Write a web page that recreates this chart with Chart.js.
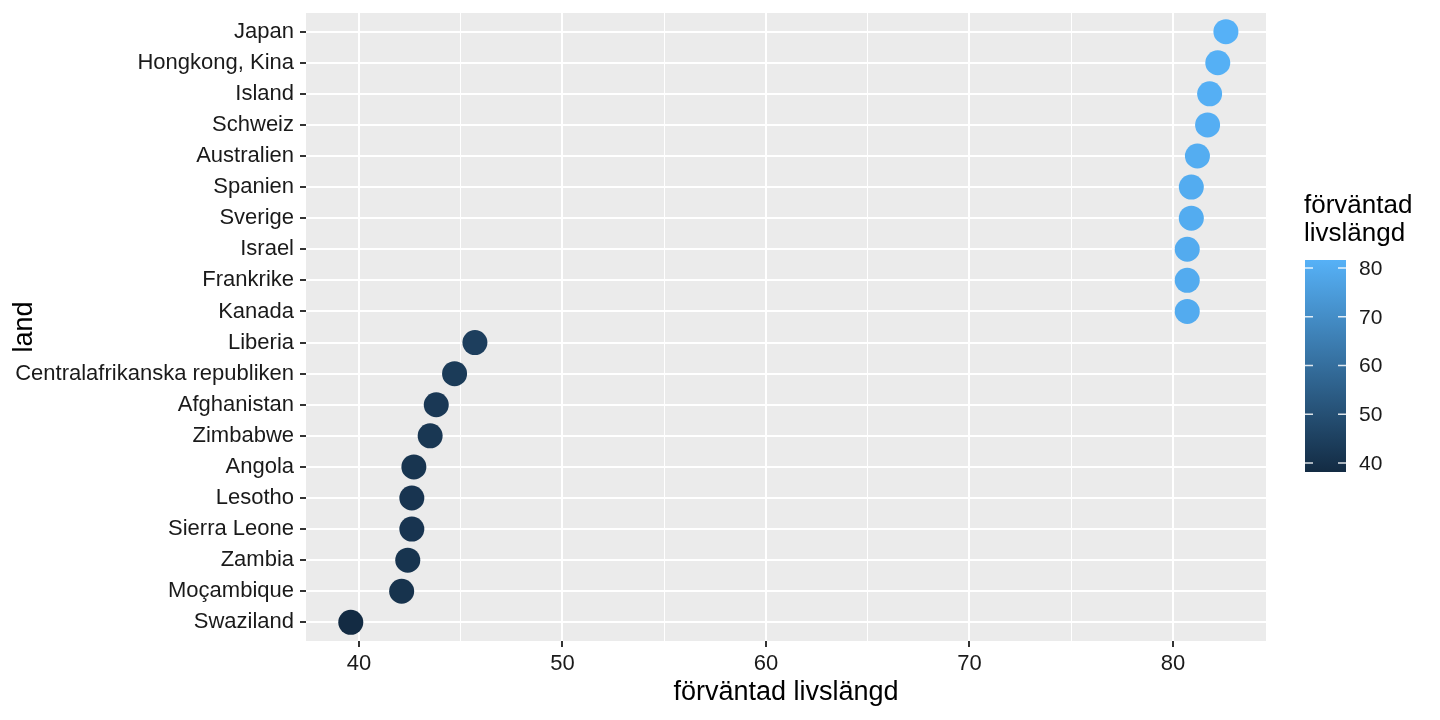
<!DOCTYPE html>
<html>
<head>
<meta charset="utf-8">
<title>förväntad livslängd</title>
<script src="https://cdn.jsdelivr.net/npm/chart.js@4.4.1/dist/chart.umd.min.js"></script>
<style>
	body { margin: 0; background: #fff; }
	#wrap { width: 1440px; height: 720px; }
</style>
</head>
<body>
<div id="wrap"><canvas id="myDotChart" width="1440" height="720"></canvas></div>
<script>
// data (gapminder 2007, topp 10 och botten 10)
var countries = ["Japan", "Hongkong, Kina", "Island", "Schweiz", "Australien", "Spanien", "Sverige", "Israel", "Frankrike", "Kanada",
	"Liberia", "Centralafrikanska republiken", "Afghanistan", "Zimbabwe", "Angola", "Lesotho", "Sierra Leone", "Zambia", "Moçambique", "Swaziland"];
var lifeExp = [82.6, 82.2, 81.8, 81.7, 81.2, 80.9, 80.9, 80.7, 80.7, 80.7,
	45.7, 44.7, 43.8, 43.5, 42.7, 42.6, 42.6, 42.4, 42.1, 39.6];
var xTicks = [40, 50, 60, 70, 80];
var legendTicks = [40, 50, 60, 70, 80];

var FONT = "'Liberation Sans', Arial, Helvetica, sans-serif";
var LOW = [19, 43, 67];    // #132B43
var HIGH = [86, 177, 247]; // #56B1F7

var minVal = Math.min.apply(null, lifeExp);
var maxVal = Math.max.apply(null, lifeExp);

// färg för ett värde (gradient mörk -> ljus)
function colorFor(v) {
	var t = (v - minVal) / (maxVal - minVal);
	var c = LOW.map(function(lo, i) { return Math.round(lo + (HIGH[i] - lo) * t); });
	return "rgb(" + c.join(",") + ")";
}

var points = lifeExp.map(function(v, i) { return { x: v, y: i }; });
var pointColors = lifeExp.map(colorFor);

// grå panel bakom rutnätet
var panelBg = {
	id: "panelBg",
	beforeDraw: function(chart) {
		var c = chart.ctx, a = chart.chartArea;
		c.save();
		c.fillStyle = "#ffffff";
		c.fillRect(0, 0, chart.width, chart.height);
		c.fillStyle = "#EBEBEB";
		c.fillRect(a.left, a.top, a.right - a.left, a.bottom - a.top);
		c.restore();
	}
};

// färgskala till höger (som ggplot colorbar)
var colorBar = {
	id: "colorBar",
	afterDraw: function(chart) {
		var c = chart.ctx;
		var x0 = 1305, w = 41, top = 260, bottom = 472;
		var lo = 38.15, hi = 81.65; // värden vid stapelns kanter
		c.save();
		c.fillStyle = "#000";
		c.font = "26px " + FONT;
		c.textAlign = "left";
		c.textBaseline = "middle";
		c.fillText("förväntad", 1304, 206);
		c.fillText("livslängd", 1304, 234);

		var grad = c.createLinearGradient(0, top, 0, bottom);
		grad.addColorStop(0, colorFor(maxVal));
		grad.addColorStop(1, colorFor(minVal));
		c.fillStyle = grad;
		c.fillRect(x0, top, w, bottom - top);

		c.font = "21px " + FONT;
		c.fillStyle = "#1a1a1a";
		legendTicks.forEach(function(v) {
			var y = bottom - (v - lo) / (hi - lo) * (bottom - top);
			c.strokeStyle = "rgba(255,255,255,0.85)";
			c.lineWidth = 1.5;
			c.beginPath();
			c.moveTo(x0, y); c.lineTo(x0 + 8, y);
			c.moveTo(x0 + w - 8, y); c.lineTo(x0 + w, y);
			c.stroke();
			c.fillText(String(v), 1359, y + 1);
		});
		c.restore();
	}
};

var ctx = document.getElementById("myDotChart").getContext("2d");
window.myDotChart = new Chart(ctx, {
	type: "scatter",
	data: {
		datasets: [{
			label: "förväntad livslängd",
			data: points,
			backgroundColor: pointColors,
			borderWidth: 0,
			pointRadius: 12.5,
			pointHoverRadius: 12.5
		}]
	},
	options: {
		responsive: false,
		animation: false,
		devicePixelRatio: 1,
		layout: { padding: { left: 0, right: 174, top: 13, bottom: 0 } },
		plugins: {
			legend: { display: false },
			tooltip: { enabled: false }
		},
		scales: {
			x: {
				type: "linear",
				min: 37.4,
				max: 84.57,
				border: { display: false },
				afterFit: function(scale) {
					scale.height = 79;
					scale.paddingLeft = 0;
					scale.paddingRight = 0;
				},
				grid: {
					color: "#ffffff",
					lineWidth: function(c) { return xTicks.indexOf(c.tick.value) >= 0 ? 2 : 1; },
					tickColor: function(c) { return xTicks.indexOf(c.tick.value) >= 0 ? "#333333" : "rgba(0,0,0,0)"; },
					tickLength: 6,
					tickWidth: 2
				},
				ticks: {
					stepSize: 5,
					includeBounds: false,
					autoSkip: false,
					maxRotation: 0,
					padding: 4,
					color: "#1a1a1a",
					font: { family: FONT, size: 22 },
					callback: function(v) { return xTicks.indexOf(v) >= 0 ? String(v) : ""; }
				},
				title: {
					display: true,
					text: "förväntad livslängd",
					color: "#000",
					font: { family: FONT, size: 27 },
					padding: { top: 0, bottom: 11 }
				}
			},
			y: {
				type: "linear",
				min: -0.6,
				max: countries.length - 0.4,
				reverse: true,
				border: { display: false },
				afterFit: function(scale) {
					scale.width = 306;
					scale.paddingTop = 0;
					scale.paddingBottom = 0;
				},
				grid: {
					color: "#ffffff",
					lineWidth: 2,
					tickColor: "#333333",
					tickLength: 6,
					tickWidth: 2
				},
				ticks: {
					stepSize: 1,
					includeBounds: false,
					autoSkip: false,
					padding: 6,
					color: "#1a1a1a",
					font: { family: FONT, size: 22 },
					callback: function(v) { return countries[v] !== undefined ? countries[v] : ""; }
				},
				title: {
					display: true,
					text: "land",
					color: "#000",
					font: { family: FONT, size: 27 },
					padding: { top: 8, bottom: 0 }
				}
			}
		}
	},
	plugins: [panelBg, colorBar]
});
</script>
</body>
</html>
